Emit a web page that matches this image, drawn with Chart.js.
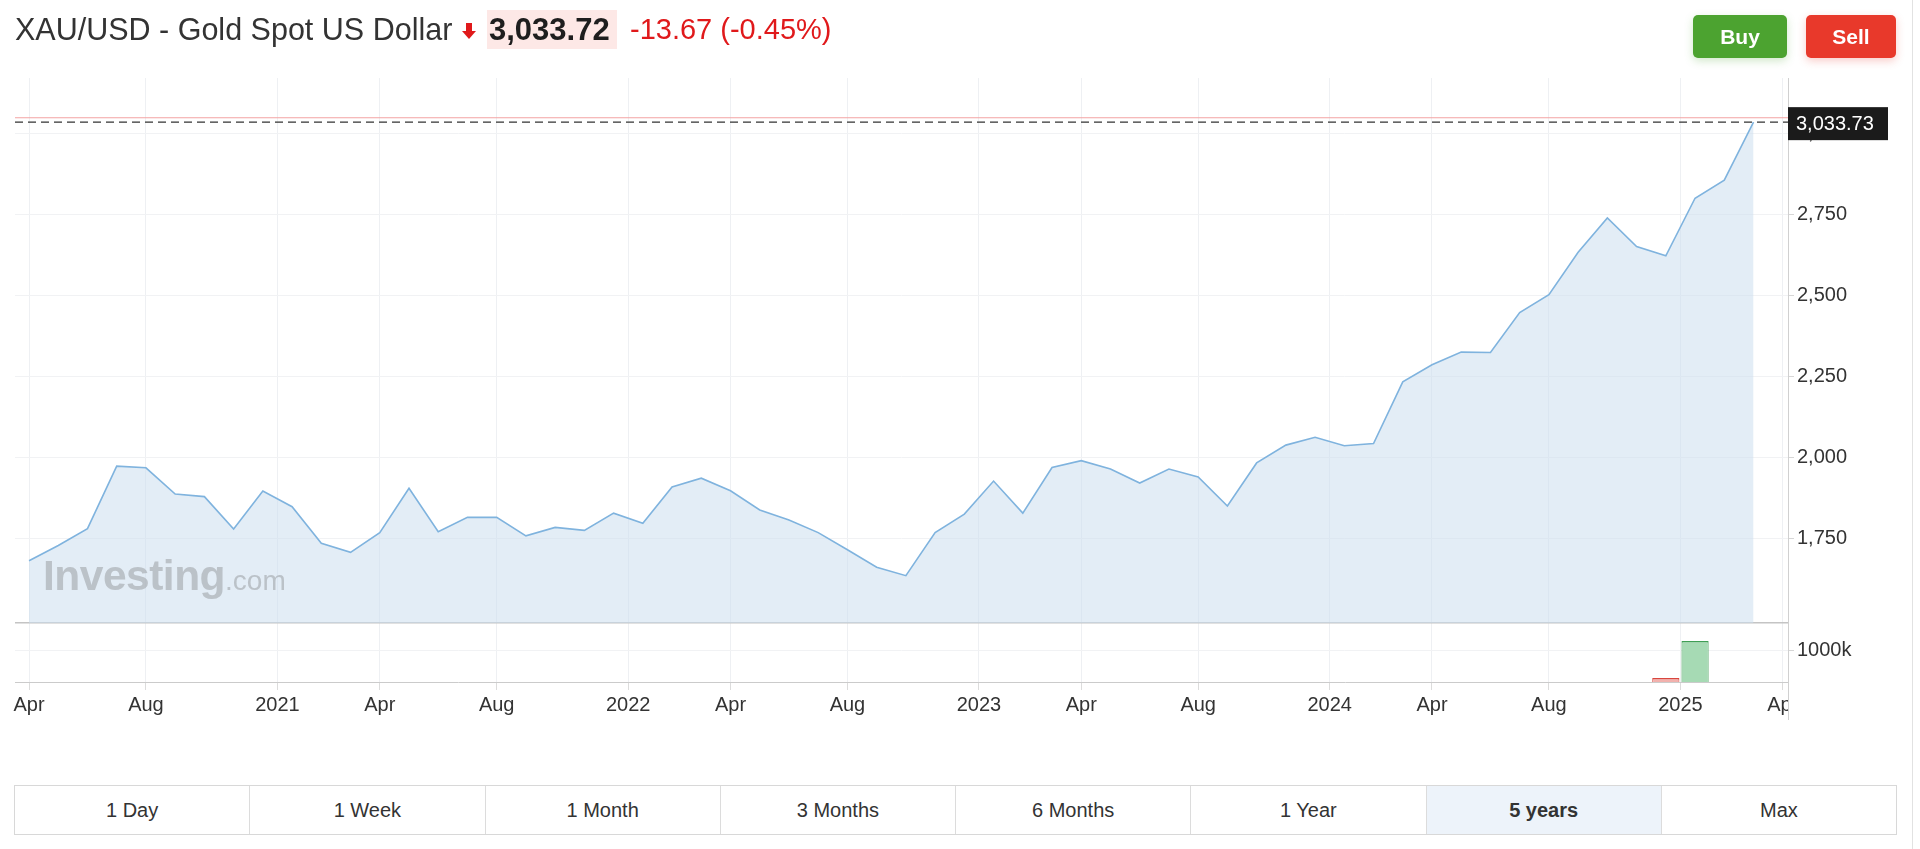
<!DOCTYPE html>
<html>
<head>
<meta charset="utf-8">
<title>XAU/USD - Gold Spot US Dollar</title>
<script src="https://cdn.jsdelivr.net/npm/chart.js@4"></script>
<style>
  html, body { margin: 0; padding: 0; background: #fff; }
  body { width: 1920px; height: 849px; position: relative; overflow: hidden; font-family: "Liberation Sans", Arial, sans-serif; color: #333; }
  .abs { position: absolute; white-space: nowrap; }
  #title { left: 15px; top: 14px; font-size: 30.5px; line-height: 30px; color: #333; }
  #arrowStem { left: 466px; top: 23px; width: 6px; height: 9px; background: #e0191b; }
  #arrowHead { left: 462px; top: 31px; width: 0; height: 0; border-left: 7px solid transparent; border-right: 7px solid transparent; border-top: 8px solid #e0191b; }
  #price { left: 487px; top: 10px; width: 130px; height: 39px; line-height: 39px; background: #fde8e6; font-size: 31px; font-weight: bold; color: #1e1e1e; padding-left: 2px; box-sizing: border-box; }
  #change { left: 630px; top: 14px; font-size: 29px; line-height: 30px; color: #e0191b; }
  .btn { top: 15px; height: 43px; line-height: 43px; border-radius: 5px; color: #fff; font-weight: bold; font-size: 21px; text-align: center; }
  #buy { left: 1693px; width: 94px; background: #4ca330; box-shadow: 0 3px 8px rgba(76,163,48,0.25); }
  #sell { left: 1806px; width: 90px; background: #e8392b; box-shadow: 0 3px 8px rgba(232,57,43,0.25); }
  #rightLine { left: 1912px; top: 0; width: 1px; height: 849px; background: #e2e2e2; }
  #chartBox { position: absolute; left: 0; top: 0; width: 1897px; height: 730px; }
  #watermark { left: 43px; top: 552px; color: rgba(160,165,170,0.6); }
  #watermark b { font-size: 42.5px; letter-spacing: -0.5px; }
  #watermark span { font-size: 28px; font-weight: normal; }
  #ranges { position: absolute; left: 14px; top: 785px; width: 1883px; height: 50px; display: flex; border: 1px solid #d8d8d8; box-sizing: border-box; }
  #ranges div { flex: 1; text-align: center; line-height: 48px; font-size: 20px; color: #333; border-left: 1px solid #dcdcdc; }
  #ranges div:first-child { border-left: none; }
  #ranges div.active { background: #edf3fa; font-weight: bold; }
</style>
</head>
<body>
<div id="chartBox"><canvas id="myChart"></canvas></div>
<div class="abs" id="watermark"><b>Investing</b><span>.com</span></div>
<div class="abs" id="title">XAU/USD - Gold Spot US Dollar</div>
<div class="abs" id="arrowStem"></div>
<div class="abs" id="arrowHead"></div>
<div class="abs" id="price">3,033.72</div>
<div class="abs" id="change">-13.67 (-0.45%)</div>
<div class="abs btn" id="buy">Buy</div>
<div class="abs btn" id="sell">Sell</div>
<div class="abs" id="rightLine"></div>
<div id="ranges"></div>
<script>
// monthly closes, Apr 2020 .. Mar 2025
const months = [
  "Apr 2020", "May 2020", "Jun 2020", "Jul 2020", "Aug 2020", "Sep 2020", "Oct 2020", "Nov 2020", "Dec 2020",
  "Jan 2021", "Feb 2021", "Mar 2021", "Apr 2021", "May 2021", "Jun 2021", "Jul 2021", "Aug 2021", "Sep 2021", "Oct 2021", "Nov 2021", "Dec 2021",
  "Jan 2022", "Feb 2022", "Mar 2022", "Apr 2022", "May 2022", "Jun 2022", "Jul 2022", "Aug 2022", "Sep 2022", "Oct 2022", "Nov 2022", "Dec 2022",
  "Jan 2023", "Feb 2023", "Mar 2023", "Apr 2023", "May 2023", "Jun 2023", "Jul 2023", "Aug 2023", "Sep 2023", "Oct 2023", "Nov 2023", "Dec 2023",
  "Jan 2024", "Feb 2024", "Mar 2024", "Apr 2024", "May 2024", "Jun 2024", "Jul 2024", "Aug 2024", "Sep 2024", "Oct 2024", "Nov 2024", "Dec 2024",
  "Jan 2025", "Feb 2025", "Mar 2025"
];
const closes = [
  1680, 1727, 1779, 1972, 1967, 1886, 1878, 1778, 1895,
  1847, 1734, 1706, 1767, 1904, 1770, 1814, 1814, 1757, 1783, 1774, 1827,
  1796, 1908, 1935, 1896, 1837, 1806, 1767, 1714, 1660, 1634, 1767, 1824,
  1926, 1827, 1968, 1989, 1963, 1920, 1963, 1939, 1849, 1982, 2037, 2061,
  2035, 2042, 2232, 2285, 2324, 2323, 2446, 2501, 2632, 2738, 2650, 2621,
  2799, 2855, 3033.73
];
// volume in thousands, only the last bars are visible
const volumes = [
  null, null, null, null, null, null, null, null, null,
  null, null, null, null, null, null, null, null, null, null, null, null,
  null, null, null, null, null, null, null, null, null, null, null, null,
  null, null, null, null, null, null, null, null, null, null, null, null,
  null, null, null, null, null, null, null, null, null, null, null, 125,
  1280, null, null
];
const xTickPos = [0, 4, 8.5, 12, 16, 20.5, 24, 28, 32.5, 36, 40, 44.5, 48, 52, 56.5, 60];
const xTickLabels = ["Apr", "Aug", "2021", "Apr", "Aug", "2022", "Apr", "Aug", "2023", "Apr", "Aug", "2024", "Apr", "Aug", "2025", "Apr"];
const priceTicks = [1750, 2000, 2250, 2500, 2750, 3000];
const volumeTicks = [1000];
const lastPrice = 3033.73;
const prevClose = 3047.39;
const ranges = ["1 Day", "1 Week", "1 Month", "3 Months", "6 Months", "1 Year", "5 years", "Max"];
const activeRange = "5 years";

const rangesBox = document.getElementById("ranges");
ranges.forEach((r) => {
  const d = document.createElement("div");
  d.textContent = r;
  if (r === activeRange) d.className = "active";
  rangesBox.appendChild(d);
});

const priceData = closes.map((c, i) => ({ x: i, y: c }));
const volumeData = volumes.map((v, i) => ({ x: i, y: v }));
const volumeFill = closes.map((c, i) => (i > 0 && c < closes[i - 1] ? "#f2b1ad" : "#a6dab4"));
const volumeBorder = closes.map((c, i) => (i > 0 && c < closes[i - 1] ? "#d9463e" : "#3f9e55"));

const VOL_MAX = 1844;
const tickFont = { family: "'Liberation Sans', Arial, sans-serif", size: 20 };

const priceLines = {
  id: "priceLines",
  afterDatasetsDraw(chart) {
    const { ctx, chartArea, scales } = chart;
    const yPrev = scales.y.getPixelForValue(prevClose);
    const yLast = scales.y.getPixelForValue(lastPrice);
    ctx.save();
    ctx.lineWidth = 1.2;
    ctx.strokeStyle = "#f3a3a3";
    ctx.beginPath();
    ctx.moveTo(chartArea.left, yPrev);
    ctx.lineTo(chartArea.right, yPrev);
    ctx.stroke();
    ctx.strokeStyle = "#333";
    ctx.setLineDash([8, 5]);
    ctx.beginPath();
    ctx.moveTo(chartArea.left, yLast);
    ctx.lineTo(chartArea.right, yLast);
    ctx.stroke();
    ctx.restore();
  },
  afterDraw(chart) {
    const { ctx, chartArea, scales } = chart;
    const yLast = scales.y.getPixelForValue(lastPrice);
    ctx.save();
    // hide the x label that runs past the plot
    ctx.fillStyle = "#fff";
    ctx.fillRect(chartArea.right + 1, chartArea.bottom + 1, 130, 50);
    ctx.strokeStyle = "#d0d0d0";
    ctx.beginPath();
    ctx.moveTo(chartArea.right + 0.5, chartArea.bottom);
    ctx.lineTo(chartArea.right + 0.5, chartArea.bottom + 38);
    ctx.stroke();
    // last price label
    ctx.fillStyle = "#1b1b1b";
    ctx.fillRect(chartArea.right, yLast - 15, 100, 33);
    ctx.fillStyle = "#fff";
    ctx.font = "20px 'Liberation Sans', Arial, sans-serif";
    ctx.textBaseline = "middle";
    ctx.fillText(lastPrice.toLocaleString("en-US", { minimumFractionDigits: 2 }), chartArea.right + 8, yLast + 2);
    ctx.restore();
  }
};

const ctx = document.getElementById("myChart").getContext("2d");
const chart = new Chart(ctx, {
  data: {
    datasets: [
      {
        type: "line",
        label: "XAU/USD",
        data: priceData,
        yAxisID: "y",
        borderColor: "#7fb3de",
        borderWidth: 1.6,
        backgroundColor: "rgba(204,222,238,0.55)",
        fill: "start",
        pointRadius: 0,
        tension: 0
      },
      {
        type: "bar",
        label: "Volume",
        data: volumeData,
        yAxisID: "y2",
        backgroundColor: volumeFill,
        borderColor: volumeBorder,
        borderWidth: { top: 1.5, left: 1, right: 1, bottom: 0 },
        barPercentage: 1,
        categoryPercentage: 0.93
      }
    ]
  },
  options: {
    responsive: true,
    maintainAspectRatio: false,
    animation: false,
    devicePixelRatio: 1,
    layout: { padding: { top: 78, left: 15, right: 0, bottom: 0 } },
    plugins: { legend: { display: false }, tooltip: { enabled: false } },
    scales: {
      x: {
        type: "linear",
        offset: false,
        min: -0.48,
        max: 60.18,
        afterBuildTicks: (s) => { s.ticks = xTickPos.map((v) => ({ value: v })); },
        afterFit: (s) => { s.height = 48; },
        ticks: {
          autoSkip: false,
          maxRotation: 0,
          padding: 3,
          color: "#333",
          font: tickFont,
          callback: (v, i) => xTickLabels[i]
        },
        grid: { offset: false, color: "#eef0f3", tickColor: "#dcdcdc", tickLength: 8 },
        border: { color: "#cbcbcb" }
      },
      y: {
        position: "right",
        stack: "panels",
        stackWeight: 545,
        min: 1488,
        max: 3170,
        afterBuildTicks: (s) => { s.ticks = priceTicks.map((v) => ({ value: v })); },
        afterFit: (s) => { s.width = 109; },
        ticks: {
          padding: 3,
          color: "#333",
          font: tickFont,
          callback: (v) => v.toLocaleString("en-US")
        },
        grid: { color: "#f1f2f4", tickColor: "#d6d6d6", tickLength: 6 },
        border: { color: "#d0d0d0" }
      },
      y2: {
        position: "right",
        stack: "panels",
        stackWeight: 59,
        min: 0,
        max: VOL_MAX,
        afterBuildTicks: (s) => { s.ticks = volumeTicks.concat([VOL_MAX]).map((v) => ({ value: v })); },
        afterFit: (s) => { s.width = 109; },
        ticks: {
          padding: 3,
          color: "#333",
          font: tickFont,
          callback: (v) => (v === VOL_MAX ? "" : v + "k")
        },
        grid: {
          color: (c) => (c.tick && c.tick.value === VOL_MAX ? "#c4c4c4" : "#f1f2f4"),
          lineWidth: (c) => (c.tick && c.tick.value === VOL_MAX ? 1.5 : 1),
          tickColor: (c) => (c.tick && c.tick.value === VOL_MAX ? "rgba(0,0,0,0)" : "#d6d6d6"),
          tickLength: 6
        },
        border: { color: "#d0d0d0" }
      }
    }
  },
  plugins: [priceLines]
});
</script>
</body>
</html>
